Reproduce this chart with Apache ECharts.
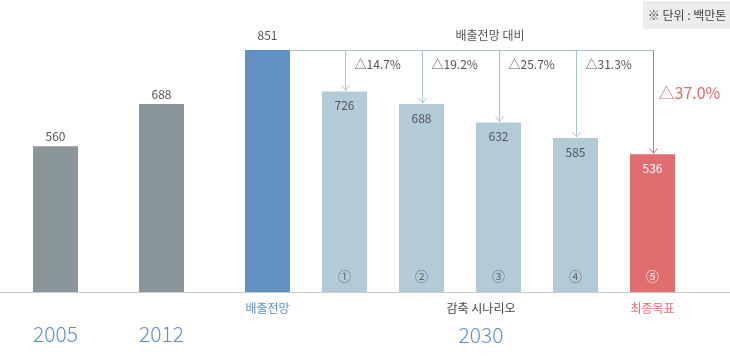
<!DOCTYPE html>
<html><head><meta charset="utf-8">
<script src="https://cdn.jsdelivr.net/npm/echarts@6/dist/echarts.min.js"></script>
<style>html,body{margin:0;padding:0;background:#fff}#c{width:730px;height:360px}</style>
</head><body><div id="c"></div>
<script>
// ---- data ----
const pastCategories = ['2005', '2012', '배출전망'];
const pastValues = [560, 688, 851];
const scenarioCategories = ['①', '②', '③', '④', '⑤'];
const scenarioValues = [726, 688, 632, 585, 536];
const reductionLabels = ['△14.7%', '△19.2%', '△25.7%', '△31.3%', '△37.0%'];
const groupTitle = '배출전망 대비';
const scenarioGroupLabel = '감축 시나리오';
const scenarioYear = '2030';
const targetLabel = '최종목표';
const unitLabel = '※ 단위 : 백만톤';

// ---- style ----
const FONT = '"Noto Sans CJK KR", "Noto Sans", sans-serif';
const GRAY = '#8b969a', BLUE = '#6191c4', LIGHT = '#b3cbd7', RED = '#e06e6e', LINE = '#aac3d0';
const YEAR = '#5e8fcb', TEXT = '#555';
const BAR_W = 45;
const yMin = 120, yMax = 851;

const chart = echarts.init(document.getElementById('c'), null, {renderer: 'canvas'});
const option = {
  animation: false,
  textStyle: {fontFamily: FONT},
  grid: [
    {left: 2.5, width: 318, top: 50, bottom: 68},
    {left: 306, width: 385, top: 50, bottom: 68},
    {left: 0, right: 0, top: 50, bottom: 68}
  ],
  xAxis: [
    {gridIndex: 0, type: 'category', data: pastCategories,
     axisLine: {show: false}, axisTick: {show: false},
     axisLabel: {margin: 10, interval: 0,
       formatter: (v, i) => i === 2 ? '{b|' + v + '}' : '{y|' + v + '}',
       rich: {b: {color: BLUE, fontSize: 12, fontFamily: FONT},
              y: {color: YEAR, fontSize: 21, fontWeight: 300, fontFamily: FONT, padding: [22, 0, 0, 0]}}}},
    {gridIndex: 1, type: 'category', data: scenarioCategories,
     axisLine: {show: false}, axisTick: {show: false},
     axisLabel: {margin: 10, interval: 0,
       formatter: (v, i) => i === scenarioCategories.length - 1 ? '{r|' + targetLabel + '}' : '',
       rich: {r: {color: RED, fontSize: 12, fontFamily: FONT}}}},
    {gridIndex: 2, type: 'category', data: [''],
     axisLine: {lineStyle: {color: '#c9c9c9', width: 1}}, axisTick: {show: false}, axisLabel: {show: false}}
  ],
  yAxis: [0, 1, 2].map(i => ({gridIndex: i, type: 'value', min: yMin, max: yMax, show: false})),
  series: [
    {type: 'bar', xAxisIndex: 0, yAxisIndex: 0, barWidth: BAR_W,
     data: pastValues.map((v, i) => ({value: v,
       itemStyle: {color: i === 2 ? BLUE : GRAY},
       label: {distance: i === 2 ? 9 : 4}})),
     label: {show: true, position: 'top', color: TEXT, fontSize: 12, fontFamily: FONT}},
    {type: 'bar', xAxisIndex: 1, yAxisIndex: 1, barWidth: BAR_W,
     data: scenarioValues.map((v, i) => ({value: v,
       itemStyle: {color: i === scenarioValues.length - 1 ? RED : LIGHT},
       label: {color: i === scenarioValues.length - 1 ? '#fff' : TEXT}})),
     label: {show: true, position: 'insideTop', distance: 8, fontSize: 12, fontFamily: FONT}},
    {type: 'bar', xAxisIndex: 1, yAxisIndex: 1, barWidth: BAR_W, barGap: '-100%', z: 3,
     data: scenarioValues.map((v, i) => ({value: v,
       label: {color: i === scenarioValues.length - 1 ? '#fff' : '#666'}})),
     itemStyle: {color: 'rgba(0,0,0,0)'},
     label: {show: true, position: 'insideBottom', distance: 9, fontSize: 13, fontFamily: FONT,
       formatter: p => scenarioCategories[p.dataIndex]}}
  ]
};
chart.setOption(option);

// ---- annotation bracket, positioned through the chart's own scales ----
const peak = chart.convertToPixel({gridIndex: 0}, [2, pastValues[2]]);
const yTop = peak[1];
const xStart = peak[0] + BAR_W / 2;
const g = [];
const last = scenarioValues.length - 1;
const xLast = chart.convertToPixel({gridIndex: 1}, [last, scenarioValues[last]])[0];
g.push({type: 'line', shape: {x1: xStart, y1: yTop + 0.5, x2: Math.round(xLast) + 0.5, y2: yTop + 0.5},
  style: {stroke: LINE, lineWidth: 1}, silent: true});
scenarioValues.forEach((v, i) => {
  const p = chart.convertToPixel({gridIndex: 1}, [i, v]);
  const cx = Math.round(p[0]) + 0.5;
  const tip = p[1] - 1;
  const col = i === last ? RED : LINE;
  g.push({type: 'line', shape: {x1: cx, y1: yTop, x2: cx, y2: tip}, style: {stroke: col, lineWidth: 1}, silent: true});
  g.push({type: 'polyline', shape: {points: [[cx - 4, tip - 5], [cx, tip], [cx + 4, tip - 5]]},
    style: {stroke: col, lineWidth: 1, fill: null}, silent: true});
  if (i === last) {
    g.push({type: 'text', x: cx + 5, y: yTop + 43,
      style: {text: reductionLabels[i], fill: RED, font: '16px ' + FONT, textAlign: 'left', textVerticalAlign: 'middle'}});
  } else {
    g.push({type: 'text', x: cx + 9, y: yTop + 14,
      style: {text: reductionLabels[i], fill: TEXT, font: '12px ' + FONT, textAlign: 'left', textVerticalAlign: 'middle'}});
  }
});
g.push({type: 'text', x: 490, y: yTop - 15,
  style: {text: groupTitle, fill: TEXT, font: '12px ' + FONT, textAlign: 'center', textVerticalAlign: 'middle'}});
g.push({type: 'text', x: 481, y: 308,
  style: {text: scenarioGroupLabel, fill: '#444', font: '12px ' + FONT, textAlign: 'center', textVerticalAlign: 'middle'}});
g.push({type: 'text', x: 481, y: 335,
  style: {text: scenarioYear, fill: YEAR, font: '300 21px ' + FONT, textAlign: 'center', textVerticalAlign: 'middle'}});
g.push({type: 'rect', shape: {x: 643, y: 1, width: 87, height: 28}, style: {fill: '#ececec'}, silent: true});
g.push({type: 'text', x: 687, y: 15,
  style: {text: unitLabel, fill: '#444', font: '12px ' + FONT, textAlign: 'center', textVerticalAlign: 'middle'}});
chart.setOption({graphic: g});
</script>
</body></html>
